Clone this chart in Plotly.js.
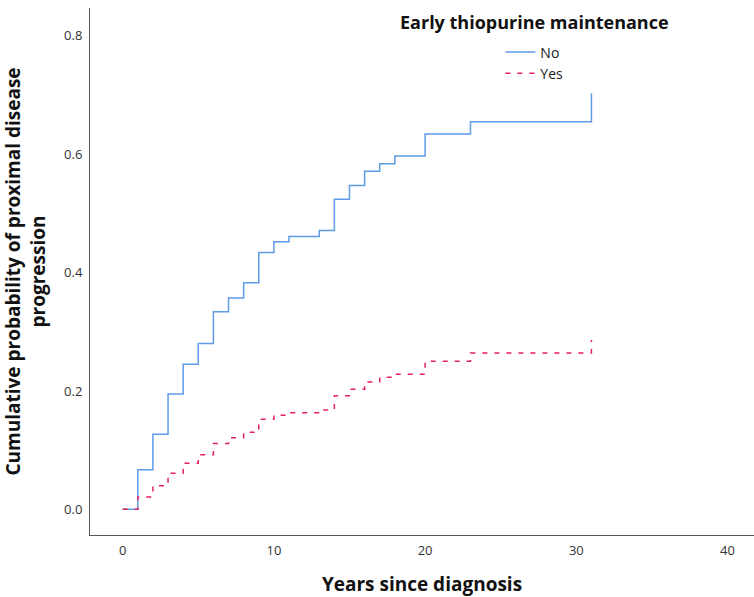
<!DOCTYPE html>
<html>
<head>
<meta charset="utf-8">
<script src="https://cdn.plot.ly/plotly-3.0.1.min.js"></script>
<style>html,body{margin:0;padding:0;background:#fff;}#chart{width:754px;height:597px;}</style>
</head>
<body>
<div id="chart"></div>
<script>
// Data (years since diagnosis vs cumulative probability)
const yearsNo  = [0, 1, 2, 3, 4, 5, 6, 7, 8, 9, 10, 11, 13, 14, 15, 16, 17, 18, 20, 23, 31];
const cumNo    = [0, 0.067, 0.127, 0.195, 0.245, 0.280, 0.334, 0.357, 0.383, 0.434, 0.452, 0.461, 0.471, 0.524, 0.547, 0.571, 0.584, 0.597, 0.634, 0.655, 0.703];
const yearsYes = [0, 1, 2, 3, 4, 5, 6, 7, 8, 9, 10, 11, 13, 14, 15, 16, 17, 18, 20, 23, 31];
const cumYes   = [0, 0.021, 0.040, 0.061, 0.078, 0.092, 0.111, 0.121, 0.130, 0.152, 0.159, 0.163, 0.168, 0.192, 0.203, 0.215, 0.223, 0.228, 0.250, 0.264, 0.286];
const groupNames = ["No", "Yes"];
const legendTitle = "Early thiopurine maintenance";
const xTickVals = [0, 10, 20, 30, 40];
const yTickVals = [0.0, 0.2, 0.4, 0.6, 0.8];
const yTickText = ["0.0", "0.2", "0.4", "0.6", "0.8"];

const FONT = "Open Sans, Noto Sans, sans-serif";

const traces = [
  {x: yearsNo, y: cumNo, name: groupNames[0], type: "scatter", mode: "lines",
   line: {shape: "hv", color: "#5e9ce8", width: 1.5}},
  {x: yearsYes, y: cumYes, name: groupNames[1], type: "scatter", mode: "lines",
   line: {shape: "hv", color: "#e2235b", width: 1.5, dash: "5px,7px"}}
];

const layout = {
  width: 754, height: 597,
  margin: {l: 90, r: 0, t: 8, b: 62},
  paper_bgcolor: "#fff", plot_bgcolor: "#fff",
  showlegend: true,
  legend: {x: 0.618, y: 0.946, xanchor: "left", yanchor: "top",
           font: {family: FONT, size: 14, color: "#222"}, bgcolor: "rgba(0,0,0,0)",
           tracegroupgap: 0, itemwidth: 30},
  xaxis: {
    range: [-2.16, 41.75], tickvals: xTickVals, ticktext: xTickVals.map(String),
    showgrid: false, zeroline: false, showline: true, linecolor: "#555", linewidth: 1,
    ticks: "outside", ticklen: 3, tickcolor: "rgba(0,0,0,0)",
    tickfont: {family: FONT, size: 13, color: "#333"},
    title: {text: "Years since diagnosis", font: {family: FONT, size: 19, color: "#111", weight: "bold"}, standoff: 20}
  },
  yaxis: {
    range: [-0.0434, 0.847], tickvals: yTickVals, ticktext: yTickText,
    showgrid: false, zeroline: false, showline: true, linecolor: "#555", linewidth: 1,
    ticks: "outside", ticklen: 4, tickcolor: "rgba(0,0,0,0)",
    tickfont: {family: FONT, size: 13, color: "#333"},
    title: {text: "Cumulative probability of proximal disease<br>progression", font: {family: FONT, size: 19, color: "#111", weight: "bold"}, standoff: 17}
  },
  annotations: [
    {text: legendTitle, xref: "paper", yref: "paper", x: 0.669, y: 0.973, xanchor: "center", yanchor: "middle",
     showarrow: false, font: {family: FONT, size: 18, color: "#111", weight: "bold"}}
  ]
};

Plotly.newPlot("chart", traces, layout, {displayModeBar: false, staticPlot: true});
</script>
</body>
</html>
